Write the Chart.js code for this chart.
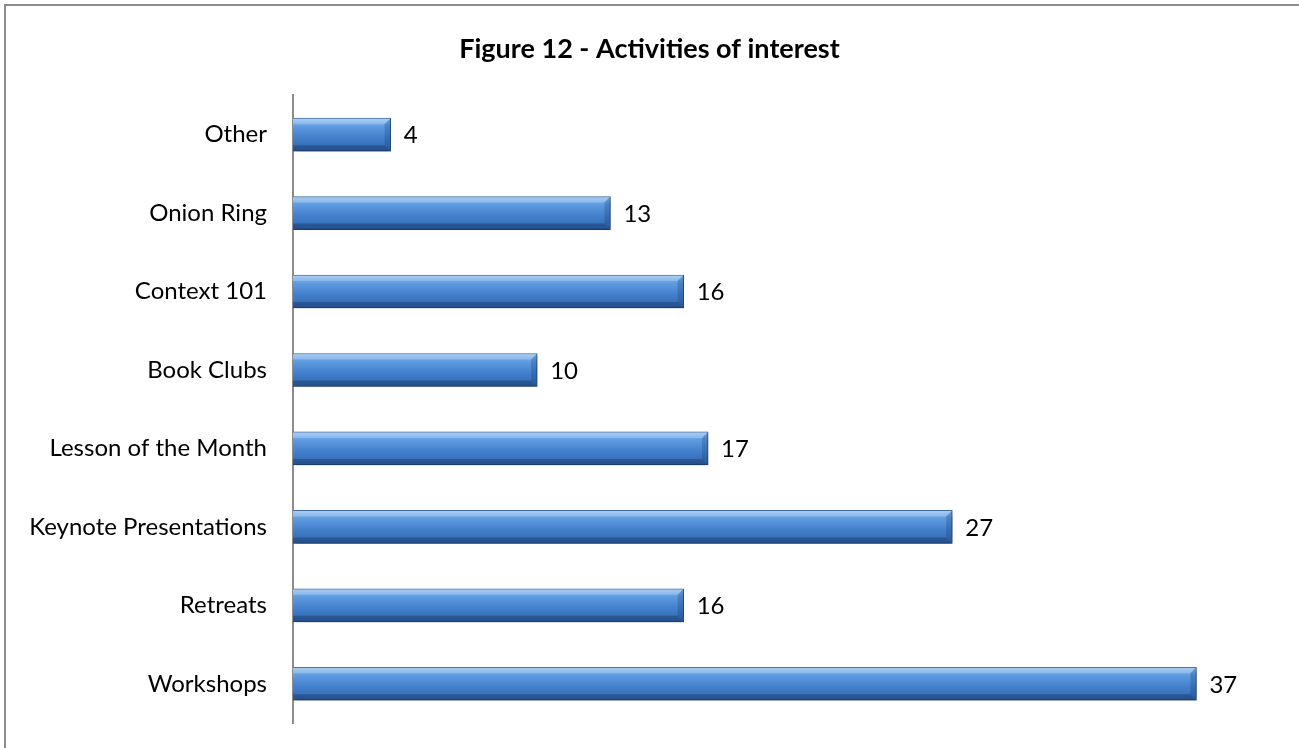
<!DOCTYPE html>
<html>
<head>
<meta charset="utf-8">
<script src="https://cdn.jsdelivr.net/npm/chart.js@4.4.1/dist/chart.umd.min.js"></script>
<style>
  body { margin: 0; overflow: hidden; background: #fff; }
  #frame { position: absolute; left: 4px; top: 4px; width: 1400px; height: 800px; border: 2px solid #8c8c8c; }
  #wrap { position: absolute; left: 0; top: 0; width: 1299px; height: 748px; }
</style>
</head>
<body>
<div id="frame"></div>
<div id="wrap"><canvas id="barChart" width="1299" height="748"></canvas></div>
<script>
const categories = ['Other', 'Onion Ring', 'Context 101', 'Book Clubs', 'Lesson of the Month', 'Keynote Presentations', 'Retreats', 'Workshops'];
const counts = [4, 13, 16, 10, 17, 27, 16, 37];
const chartTitle = 'Figure 12 - Activities of interest';
const fontFamily = 'Lato, "Open Sans", sans-serif';

// vertical gradient for each bar, built from the bar's own position on the y scale
function barFill(ctx) {
    const chart = ctx.chart;
    const yScale = chart.scales.y;
    if (!yScale || ctx.dataIndex === undefined) return '#4a86d0';
    const yc = yScale.getPixelForValue(ctx.dataIndex);
    if (!isFinite(yc)) return '#4a86d0';
    const g = chart.ctx.createLinearGradient(0, yc - 17, 0, yc + 17);
    g.addColorStop(0, '#93c3f2');
    g.addColorStop(0.25, '#5e9be0');
    g.addColorStop(0.6, '#427fcc');
    g.addColorStop(1, '#3065aa');
    return g;
}

const bevelPlugin = {
    id: 'bevel',
    beforeDatasetsDraw(chart) {
        const c = chart.ctx;
        c.save();
        c.shadowColor = 'rgba(0,0,0,0.35)';
        c.shadowBlur = 5;
        c.shadowOffsetY = 4;
        c.shadowOffsetX = 1;
    },
    afterDatasetsDraw(chart) {
        const c = chart.ctx;
        c.restore();
        const meta = chart.getDatasetMeta(0);
        const b = 6;
        meta.data.forEach((bar, i) => {
            const left = bar.base, right = bar.x;
            const top = bar.y - bar.height / 2, bottom = bar.y + bar.height / 2;
            c.save();
            // top bevel
            c.fillStyle = 'rgba(255,255,255,0.22)';
            c.beginPath();
            c.moveTo(left, top); c.lineTo(right, top); c.lineTo(right - b, top + b); c.lineTo(left, top + b);
            c.closePath(); c.fill();
            // right bevel
            c.fillStyle = 'rgba(20,50,100,0.25)';
            c.beginPath();
            c.moveTo(right, top); c.lineTo(right, bottom); c.lineTo(right - b, bottom - b); c.lineTo(right - b, top + b);
            c.closePath(); c.fill();
            // bottom bevel
            c.fillStyle = 'rgba(10,30,70,0.3)';
            c.beginPath();
            c.moveTo(left, bottom); c.lineTo(right, bottom); c.lineTo(right - b, bottom - b); c.lineTo(left, bottom - b);
            c.closePath(); c.fill();
            // value label
            c.fillStyle = '#000';
            c.font = '24px ' + fontFamily;
            c.textAlign = 'left';
            c.textBaseline = 'middle';
            c.fillText(String(counts[i]), right + 13, bar.y + 1);
            c.restore();
        });
    }
};

const ctx = document.getElementById('barChart').getContext('2d');
new Chart(ctx, {
    type: 'bar',
    data: {
        labels: categories,
        datasets: [{
            data: counts,
            backgroundColor: barFill,
            borderColor: '#2a5a98',
            borderWidth: 1,
            barThickness: 33
        }]
    },
    options: {
        indexAxis: 'y',
        responsive: false,
        animation: false,
        layout: { padding: { left: 0, right: 0, top: 0, bottom: 25 } },
        plugins: {
            legend: { display: false },
            tooltip: { enabled: false },
            title: {
                display: true,
                text: chartTitle,
                color: '#000',
                font: { family: fontFamily, size: 27, weight: 'bold' },
                padding: { top: 33, bottom: 30 }
            }
        },
        scales: {
            x: {
                display: false,
                min: 0,
                max: 41.2
            },
            y: {
                grid: { display: false, drawTicks: false },
                border: { display: true, color: '#8c8c8c', width: 2 },
                ticks: {
                    color: '#000',
                    padding: 26,
                    font: { family: fontFamily, size: 24 }
                },
                afterFit(scale) {
                    scale.width = 293;
                    scale.paddingTop = 0;
                    scale.paddingBottom = 0;
                }
            }
        }
    },
    plugins: [bevelPlugin]
});
</script>
</body>
</html>
